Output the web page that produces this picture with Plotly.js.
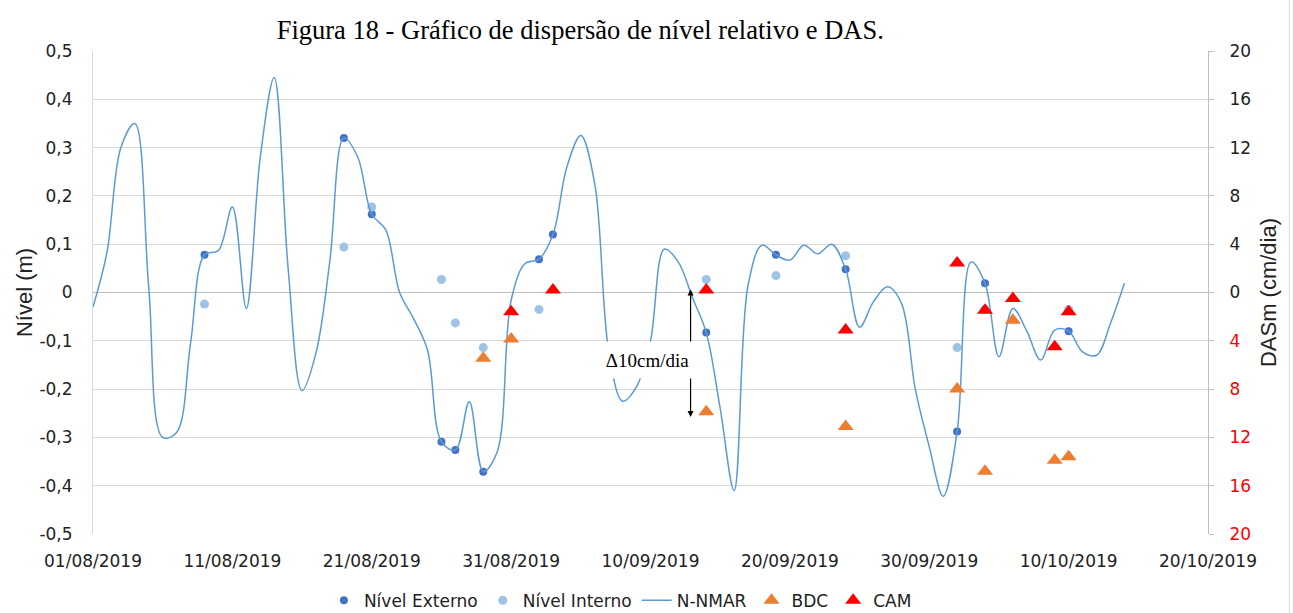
<!DOCTYPE html>
<html>
<head>
<meta charset="utf-8">
<script src="https://cdn.plot.ly/plotly-3.0.1.min.js"></script>
<style>html,body{margin:0;padding:0;background:#fff;}#chart{width:1293px;height:613px;}</style>
</head>
<body>
<div id="chart"></div>
<script>
// ---- Data ----
const startDate = '2019-08-01';
// N-NMAR daily values from 01/08/2019 to 14/10/2019
const nnmarValues = [
  -0.03, 0.083, 0.30, 0.35, 0.01, -0.30, -0.29, -0.105, 0.078, 0.087,
  0.177, -0.033, 0.28, 0.445, 0.05, -0.203, -0.125, 0.067, 0.32, 0.28,
  0.162, 0.13, 0.0, -0.054, -0.119, -0.309, -0.326, -0.226, -0.371, -0.33,
  -0.016, 0.06, 0.069, 0.12, 0.26, 0.325, 0.225, -0.12, -0.225, -0.195,
  -0.1, 0.09, 0.063, -0.01, -0.083, -0.24, -0.41, 0.015, 0.098, 0.078,
  0.067, 0.098, 0.08, 0.1, 0.048, -0.072, -0.019, 0.012, -0.022, -0.2,
  -0.319, -0.422, -0.288, 0.063, 0.019, -0.133, -0.033, -0.08, -0.14, -0.078,
  -0.08, -0.123, -0.13, -0.064, 0.019
];
const externoDates = ['2019-08-09','2019-08-19','2019-08-21','2019-08-26','2019-08-27','2019-08-29','2019-09-02','2019-09-03','2019-09-14','2019-09-19','2019-09-24','2019-10-02','2019-10-04','2019-10-10'];
const externoValues = [0.078, 0.32, 0.162, -0.309, -0.326, -0.371, 0.069, 0.12, -0.083, 0.078, 0.048, -0.288, 0.019, -0.08];
const internoDates = ['2019-08-09','2019-08-19','2019-08-21','2019-08-26','2019-08-27','2019-08-29','2019-09-02','2019-09-14','2019-09-19','2019-09-24','2019-10-02','2019-10-04','2019-10-10'];
const internoValues = [-0.024, 0.094, 0.177, 0.027, -0.063, -0.114, -0.035, 0.027, 0.035, 0.076, -0.114, -0.035, -0.035];
const bdcDates = ['2019-08-29','2019-08-31','2019-09-14','2019-09-24','2019-10-02','2019-10-04','2019-10-06','2019-10-09','2019-10-10'];
const bdcValues = [-5.45, -3.86, -9.87, -11.1, -8.0, -14.8, -2.3, -13.9, -13.6];
const camDates = ['2019-08-31','2019-09-03','2019-09-14','2019-09-24','2019-10-02','2019-10-04','2019-10-06','2019-10-09','2019-10-10'];
const camValues = [-1.6, 0.2, 0.2, -3.1, 2.45, -1.46, -0.5, -4.5, -1.6];

const leftTickVals = [-0.5, -0.4, -0.3, -0.2, -0.1, 0, 0.1, 0.2, 0.3, 0.4, 0.5];
const leftTickText = ['-0,5','-0,4','-0,3','-0,2','-0,1','0','0,1','0,2','0,3','0,4','0,5'];
const rightTickVals = [-20, -16, -12, -8, -4, 0, 4, 8, 12, 16, 20];
const rightTickText = ['20','16','12','8','4','0','4','8','12','16','20'];
const rightNegColor = '#ff0000';

// ---- Build ----
function dayDate(i) {
  const d = new Date(startDate + 'T00:00:00Z');
  d.setUTCDate(d.getUTCDate() + i);
  return d.toISOString().slice(0, 10);
}
const nnmarDates = nnmarValues.map((_, i) => dayDate(i));
const rightTicks = rightTickText.map((t, i) => rightTickVals[i] < 0 ? '<span style="color:' + rightNegColor + '">' + t + '</span>' : t);

const sans = 'DejaVu Sans, sans-serif';
const traces = [
  {x: externoDates, y: externoValues, name: 'Nível Externo', type: 'scatter', mode: 'markers',
   marker: {color: '#4472C4', size: 8}},
  {x: internoDates, y: internoValues, name: 'Nível Interno', type: 'scatter', mode: 'markers',
   marker: {color: '#9DC3E6', size: 9}},
  {x: nnmarDates, y: nnmarValues, name: 'N-NMAR', type: 'scatter', mode: 'lines',
   line: {color: '#5B9BD5', width: 1.5, shape: 'spline', smoothing: 1}},
  {x: bdcDates, y: bdcValues, name: 'BDC', type: 'scatter', mode: 'markers', yaxis: 'y2',
   marker: {color: '#ED7D31', size: 14, symbol: 'triangle-up'}},
  {x: camDates, y: camValues, name: 'CAM', type: 'scatter', mode: 'markers', yaxis: 'y2',
   marker: {color: '#FF0000', size: 14, symbol: 'triangle-up'}}
];

const layout = {
  width: 1293, height: 613,
  margin: {l: 93, r: 85, t: 51, b: 79, autoexpand: false},
  paper_bgcolor: '#ffffff', plot_bgcolor: '#ffffff',
  font: {family: sans, size: 17, color: '#222'},
  showlegend: true,
  title: {text: 'Figura 18 - Gráfico de dispersão de nível relativo e DAS.',
          font: {family: 'Liberation Serif, serif', size: 26.5, color: '#000'},
          x: 0.437, xref: 'paper', xanchor: 'center', y: 0.951, yanchor: 'middle'},
  xaxis: {
    type: 'date', range: ['2019-08-01', '2019-10-20'],
    tick0: '2019-08-01', dtick: 864000000, tickformat: '%d/%m/%Y',
    showgrid: false, showline: false, zeroline: false,
    ticks: 'outside', ticklen: 12, tickcolor: 'rgba(0,0,0,0)',
    tickfont: {family: sans, size: 17, color: '#222'}
  },
  yaxis: {
    range: [-0.5, 0.5], tickvals: leftTickVals, ticktext: leftTickText,
    showgrid: true, gridcolor: '#d9d9d9', gridwidth: 1,
    zeroline: true, zerolinecolor: '#bfbfbf', zerolinewidth: 1,
    showline: true, linecolor: '#d9d9d9', linewidth: 1,
    ticks: 'outside', ticklen: 16, tickcolor: 'rgba(0,0,0,0)',
    tickfont: {family: sans, size: 17, color: '#222'},
    title: {text: 'Nível (m)', font: {family: 'Liberation Sans, sans-serif', size: 22, color: '#222'}, standoff: 0}
  },
  yaxis2: {
    overlaying: 'y', side: 'right', range: [-20, 20],
    tickvals: rightTickVals, ticktext: rightTicks,
    showgrid: false, zeroline: false,
    showline: true, linecolor: '#bfbfbf', linewidth: 1,
    ticks: 'outside', ticklen: 5, tickcolor: '#bfbfbf',
    ticklabelstandoff: 12,
    tickfont: {family: sans, size: 17, color: '#222'},
    title: {text: 'DASm (cm/dia)', font: {family: 'Liberation Sans, sans-serif', size: 22, color: '#222'}, standoff: 10}
  },
  legend: {orientation: 'h', x: 0.473, xanchor: 'center', xref: 'paper',
           y: 0.02, yref: 'container', yanchor: 'middle',
           font: {family: sans, size: 17, color: '#222'}, traceorder: 'normal'},
  annotations: [
    {xref: 'x', yref: 'y', axref: 'x', ayref: 'y', x: '2019-09-12 21:00', y: 0.006, ax: '2019-09-12 21:00', ay: -0.12,
     text: '', showarrow: true, arrowhead: 2, arrowsize: 1, arrowwidth: 1.2, arrowcolor: '#000', standoff: 0, startstandoff: 0},
    {xref: 'x', yref: 'y', axref: 'x', ayref: 'y', x: '2019-09-12 21:00', y: -0.258, ax: '2019-09-12 21:00', ay: -0.12,
     text: '', showarrow: true, arrowhead: 2, arrowsize: 1, arrowwidth: 1.2, arrowcolor: '#000', standoff: 0, startstandoff: 0},
    {xref: 'x', yref: 'y', x: '2019-09-09 18:45', y: -0.14, text: 'Δ10cm/dia', showarrow: false,
     font: {family: 'Liberation Serif, serif', size: 19, color: '#000'},
     bgcolor: '#ffffff', width: 107, height: 34, align: 'center', valign: 'middle'}
  ],
  shapes: [
    {type: 'line', xref: 'paper', yref: 'paper', x0: 1.073, x1: 1.073, y0: -0.163, y1: 1.105,
     line: {color: '#d9d9d9', width: 1}}
  ]
};

Plotly.newPlot('chart', traces, layout, {displayModeBar: false, responsive: false});
</script>
</body>
</html>
